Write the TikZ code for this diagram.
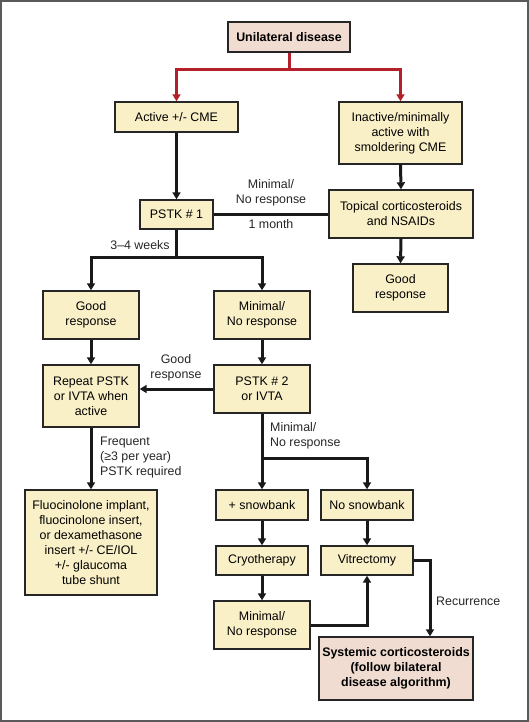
\documentclass[tikz,border=0pt]{standalone}
\usepackage{fontspec}
\setmainfont{Liberation Sans}
\usetikzlibrary{arrows.meta}
\definecolor{boxfill}{HTML}{FAF0C8}
\definecolor{pinkfill}{HTML}{F0DCD0}
\definecolor{redline}{HTML}{B3202A}
\definecolor{framegray}{HTML}{5A5A5A}
\tikzset{
  box/.style={draw=black!85, line width=1.4bp, fill=boxfill, inner sep=0pt, align=center,
    font=\fontsize{12.4bp}{15bp}\selectfont},
  pinkbox/.style={box, fill=pinkfill},
  conn/.style={line width=3bp, draw=black!90, -{Triangle[width=8bp,length=7bp]}},
  plain/.style={line width=3bp, draw=black!90},
  rconn/.style={line width=3bp, draw=redline, -{Triangle[width=8bp,length=7bp]}},
  rplain/.style={line width=3bp, draw=redline},
  lbl/.style={inner sep=0pt, text=black!85, font=\fontsize{12.4bp}{15bp}\selectfont}
}
\begin{document}
\begin{tikzpicture}[x=1bp,y=-1bp]
\useasboundingbox (0,0) rectangle (529,722);
\draw[framegray, line width=2bp] (1,1) rectangle (528,721);

\node[pinkbox, minimum width=122bp, minimum height=30bp, font=\fontsize{12.4bp}{15bp}\selectfont\bfseries] (uni) at (289,37) {Unilateral disease};
\node[box, minimum width=123bp, minimum height=30bp] (act) at (176.5,117) {Active +/- CME};
\node[box, minimum width=123bp, minimum height=62bp] (inact) at (400.5,133) {Inactive/minimally\\active with\\smoldering CME};
\node[box, minimum width=73bp, minimum height=29bp] (p1) at (176.5,214.5) {PSTK \# 1};
\node[box, minimum width=144bp, minimum height=48bp] (top) at (401,214) {Topical corticosteroids\\and NSAIDs};
\node[box, minimum width=95bp, minimum height=48bp] (gr2) at (400.5,288) {Good\\response};
\node[box, minimum width=96bp, minimum height=48bp] (gr1) at (91,315) {Good\\response};
\node[box, minimum width=96bp, minimum height=48bp] (min1) at (262,315) {Minimal/\\No response};
\node[box, minimum width=96bp, minimum height=62bp] (rep) at (91,396) {Repeat PSTK\\or IVTA when\\active};
\node[box, minimum width=96bp, minimum height=48bp] (p2) at (262,389) {PSTK \# 2\\or IVTA};
\node[box, minimum width=132bp, minimum height=105bp] (fluo) at (91,542.5) {Fluocinolone implant,\\fluocinolone insert,\\or dexamethasone\\insert +/- CE/IOL\\+/- glaucoma\\tube shunt};
\node[box, minimum width=92bp, minimum height=30bp] (snow) at (262,505) {+ snowbank};
\node[box, minimum width=92bp, minimum height=30bp] (nosnow) at (367,505) {No snowbank};
\node[box, minimum width=92bp, minimum height=29bp] (cryo) at (262,560.5) {Cryotherapy};
\node[box, minimum width=92bp, minimum height=29bp] (vit) at (367,560.5) {Vitrectomy};
\node[box, minimum width=96bp, minimum height=48bp] (min2) at (262,625) {Minimal/\\No response};
\node[pinkbox, minimum width=154bp, minimum height=63bp, font=\fontsize{12.4bp}{15bp}\selectfont\bfseries] (sys) at (396,668.5) {Systemic corticosteroids\\(follow bilateral\\disease algorithm)};

% red split
\coordinate (rs) at (289,70);
\draw[rplain] (uni.south) -- (rs);
\draw[rconn] (rs) -| (act.north);
\draw[rconn] (rs) -| (inact.north);

\draw[conn] (act.south) -- (p1.north);
\draw[conn] (inact.south) -- (top.north);
\draw[plain] (p1.east) -- (p1.east -| top.west);
\node[lbl, align=center] (l1) at (271,192.5) {Minimal/\\No response};
\node[lbl] (l2) at (271,224) {1 month};
\draw[conn] (top.south) -- (gr2.north);

\coordinate (s1) at (176.5,257);
\draw[plain] (p1.south) -- (s1);
\draw[conn] (s1) -| (gr1.north);
\draw[conn] (s1) -| (min1.north);
\node[lbl] (l3) at (140,245) {3–4 weeks};

\draw[conn] (gr1.south) -- (rep.north);
\draw[conn] (min1.south) -- (p2.north);
\draw[conn] (p2.west) -- (p2.west -| rep.east);
\node[lbl, align=center] (l4) at (176,367.5) {Good\\response};

\draw[conn] (rep.south) -- (fluo.north);
\node[lbl, align=left, anchor=west] (l5) at (100,457.5) {Frequent\\(≥3 per year)\\PSTK required};

\coordinate (s2) at (262,458);
\draw[plain] (p2.south) -- (s2);
\draw[conn] (s2) -- (snow.north);
\draw[conn] (s2) -| (nosnow.north);
\node[lbl, align=left, anchor=west] (l6) at (270,436) {Minimal/\\No response};

\draw[conn] (snow.south) -- (cryo.north);
\draw[conn] (nosnow.south) -- (vit.north);
\draw[conn] (cryo.south) -- (min2.north);
\draw[conn] (min2.east) -| (vit.south);

\coordinate (rc) at (430,600);
\draw[plain] (vit.east) -| (rc);
\draw[conn] (rc) -- (rc |- sys.north);
\node[lbl, anchor=west] (l7) at (436,601) {Recurrence};
\end{tikzpicture}
\end{document}
